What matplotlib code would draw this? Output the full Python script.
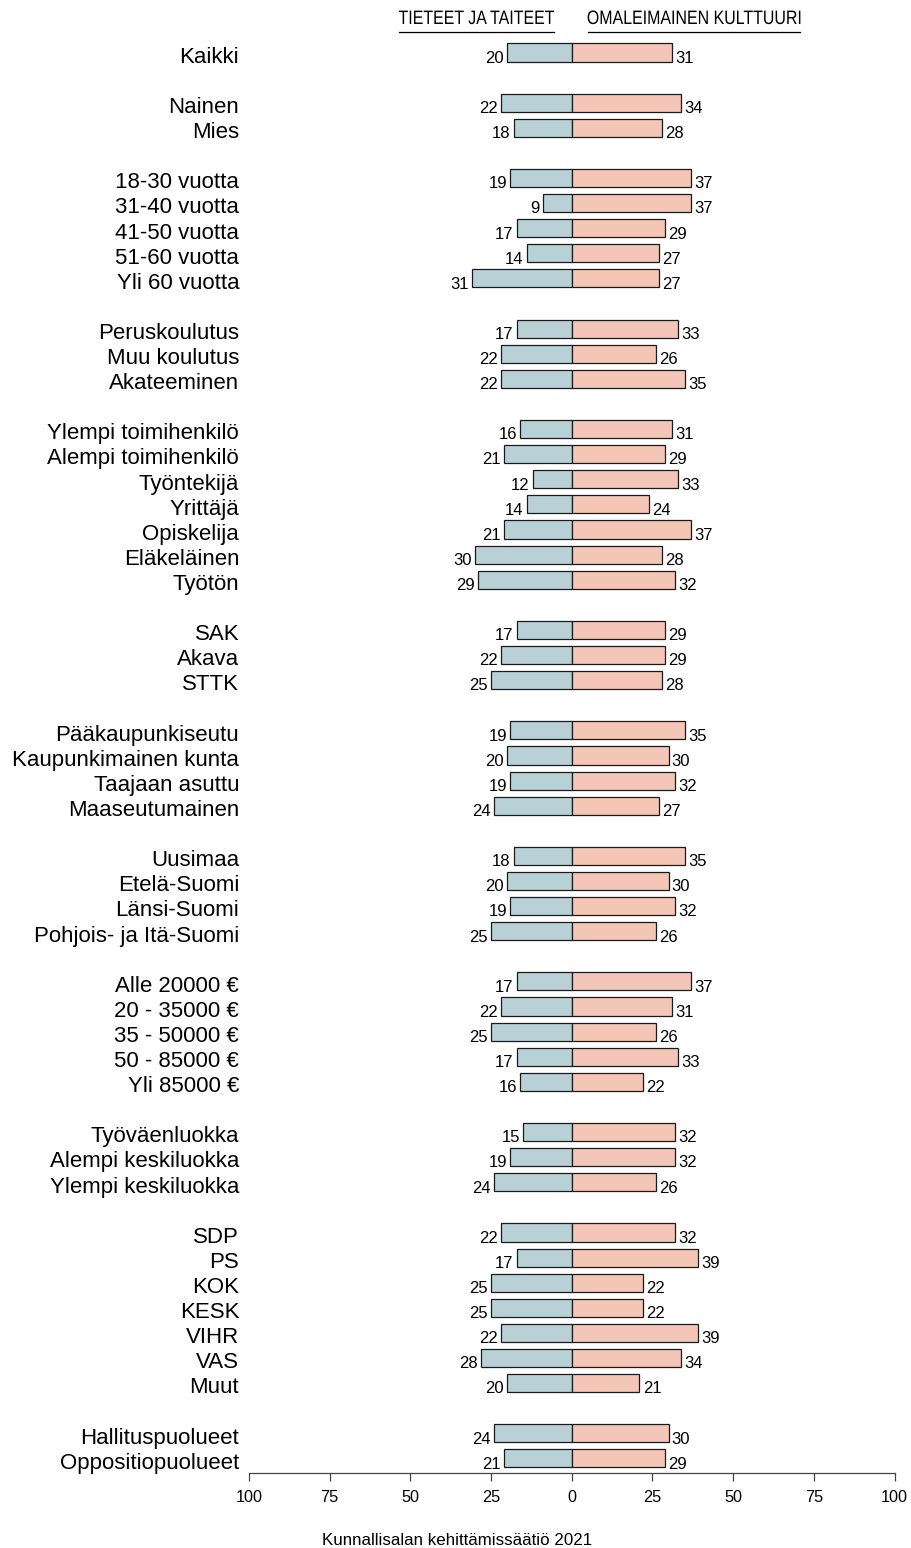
import numpy as np
import matplotlib
matplotlib.use("Agg")
import matplotlib.pyplot as plt
from matplotlib import font_manager
from matplotlib.font_manager import FontProperties
from matplotlib.textpath import TextPath
from matplotlib.patches import PathPatch
from matplotlib.transforms import Affine2D

# Groups of respondents, one list per block of rows
groups = [
    ["Kaikki"],
    ["Nainen", "Mies"],
    ["18-30 vuotta", "31-40 vuotta", "41-50 vuotta", "51-60 vuotta", "Yli 60 vuotta"],
    ["Peruskoulutus", "Muu koulutus", "Akateeminen"],
    ["Ylempi toimihenkilö", "Alempi toimihenkilö", "Työntekijä", "Yrittäjä",
     "Opiskelija", "Eläkeläinen", "Työtön"],
    ["SAK", "Akava", "STTK"],
    ["Pääkaupunkiseutu", "Kaupunkimainen kunta", "Taajaan asuttu", "Maaseutumainen"],
    ["Uusimaa", "Etelä-Suomi", "Länsi-Suomi", "Pohjois- ja Itä-Suomi"],
    ["Alle 20000 €", "20 - 35000 €", "35 - 50000 €", "50 - 85000 €", "Yli 85000 €"],
    ["Työväenluokka", "Alempi keskiluokka", "Ylempi keskiluokka"],
    ["SDP", "PS", "KOK", "KESK", "VIHR", "VAS", "Muut"],
    ["Hallituspuolueet", "Oppositiopuolueet"],
]

# TIETEET JA TAITEET (left side)
tieteet = [
    20,
    22, 18,
    19, 9, 17, 14, 31,
    17, 22, 22,
    16, 21, 12, 14, 21, 30, 29,
    17, 22, 25,
    19, 20, 19, 24,
    18, 20, 19, 25,
    17, 22, 25, 17, 16,
    15, 19, 24,
    22, 17, 25, 25, 22, 28, 20,
    24, 21,
]

# OMALEIMAINEN KULTTUURI (right side)
omaleimainen = [
    31,
    34, 28,
    37, 37, 29, 27, 27,
    33, 26, 35,
    31, 29, 33, 24, 37, 28, 32,
    29, 29, 28,
    35, 30, 32, 27,
    35, 30, 32, 26,
    37, 31, 26, 33, 22,
    32, 32, 26,
    32, 39, 22, 22, 39, 34, 21,
    30, 29,
]

xticks = [-100, -75, -50, -25, 0, 25, 50, 75, 100]
left_title = "TIETEET JA TAITEET"
right_title = "OMALEIMAINEN KULTTUURI"
caption = "Kunnallisalan kehittämissäätiö 2021"

col_left = "#b7d1d6"
col_right = "#f4c6b7"

installed = {f.name for f in font_manager.fontManager.ttflist}
base_font = "Liberation Sans" if "Liberation Sans" in installed else "DejaVu Sans"
plt.rcParams["font.family"] = base_font

# row positions: one empty slot between groups
labels, ypos = [], []
slot = 0
for g in groups:
    for name in g:
        labels.append(name)
        ypos.append(slot)
        slot += 1
    slot += 1
ypos = np.array(ypos)
n_slots = ypos[-1]

W, H = 9.11, 15.48
fig = plt.figure(figsize=(W, H), dpi=100)
ax = fig.add_axes([0.2732, 0.04845, 0.7087, 0.93385])

left = -np.array(tieteet, dtype=float)
right = np.array(omaleimainen, dtype=float)
h = 0.72
ax.barh(ypos, left, height=h, color=col_left, edgecolor="#1a1a1a", linewidth=0.9)
ax.barh(ypos, right, height=h, color=col_right, edgecolor="#1a1a1a", linewidth=0.9)

dy = 0.41  # baseline offset of texts below row centre
for y, l, r, name in zip(ypos, left, right, labels):
    ax.text(l - 1.0, y + dy, f"{int(-l)}", ha="right", va="baseline", fontsize=12)
    ax.text(r + 1.0, y + dy, f"{int(r)}", ha="left", va="baseline", fontsize=12)
    ax.text(-103, y + dy, name, ha="right", va="baseline", fontsize=16, clip_on=False)

ax.set_xlim(-100, 100)
ax.set_ylim(n_slots + 0.58, -1)
ax.set_yticks([])
ax.set_xticks(xticks)
ax.set_xticklabels([str(abs(t)) for t in xticks], fontsize=11.7)
ax.tick_params(axis="x", length=6, width=0.9, pad=6, color="#444444")
for s in ["top", "left", "right"]:
    ax.spines[s].set_visible(False)
ax.spines["bottom"].set_bounds(-100, 100)
ax.spines["bottom"].set_color("#444444")
ax.spines["bottom"].set_linewidth(0.9)


def narrow_header(text, xc_px, base_px, size_pt=14, squeeze=0.82):
    """ Draws a horizontally condensed, underlined header (Arial Narrow look) """
    tp = TextPath((0, 0), text, size=size_pt / 72, prop=FontProperties(family=base_font))
    ext = tp.get_extents()
    w = ext.width * squeeze
    x0 = xc_px / 100 - w / 2
    yb = H - base_px / 100
    tr = Affine2D().translate(-ext.x0, 0).scale(squeeze, 1).translate(x0, yb) + fig.dpi_scale_trans
    fig.add_artist(PathPatch(tp, transform=tr, facecolor="black", edgecolor="none"))
    yu = H - (base_px + 7.5) / 100
    fig.add_artist(plt.Line2D([x0, x0 + w], [yu, yu], color="black", linewidth=0.9,
                              transform=fig.dpi_scale_trans))


narrow_header(left_title, 476.5, 24)
narrow_header(right_title, 694, 24)

fig.text(456.7 / 911, 1 - 1545 / 1548, caption, ha="center", va="baseline", fontsize=12.2)

fig.savefig("out.png", dpi=100)
